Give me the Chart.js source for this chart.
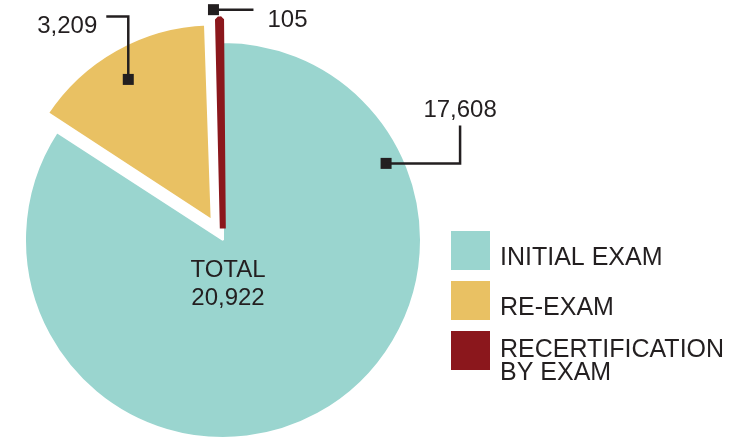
<!DOCTYPE html>
<html>
<head>
<meta charset="utf-8">
<script src="https://cdn.jsdelivr.net/npm/chart.js@4.4.1/dist/chart.umd.min.js"></script>
<style>
  html, body { margin: 0; padding: 0; background: #fff; }
  #wrap { position: relative; width: 747px; height: 441px; }
</style>
</head>
<body>
<div id="wrap"><canvas id="ExamChart"></canvas></div>
<script>
// ================= Data =================
const categories = ['INITIAL EXAM', 'RE-EXAM', ['RECERTIFICATION', 'BY EXAM']];
const examCounts = [17608, 3209, 105];
const sliceColors = ['#9AD5CF', '#E9C163', '#8B171C'];
const sliceOffsets = [0, 75, 46];   // chart.js offset units (translated ~0.3-0.5x)
const sliceBorders = ['#fff', '#fff', '#8B171C'];   // red border keeps the thin slice visible
const sliceBorderWidths = [2, 6, 6];

const TEXT = '#231F20';
const FONT = '"Liberation Sans", Arial, Helvetica, sans-serif';
const fmt = n => n.toLocaleString('en-US');
const total = examCounts.reduce((a, b) => a + b, 0);

// leader lines: where the marker sits inside the slice + elbow path + text side
const leaders = [
  { frac: 0.214, r: 0.91, path: [[74, 0], [0, -38]], text: { dx: 0, dy: -8, align: 'center' } },
  { frac: 0.477, r: 0.83, path: [[0, -63], [-22, 0]], text: { dx: -9, dy: 17, align: 'right' } },
  { frac: -0.4, r: 1.05, path: [[40, 0]], text: { dx: 14, dy: 17, align: 'left' } }
];

// same translation chart.js applies for arc offset
function arcShift(el) {
  const offset = (el.options.offset || 0) / 4;
  const circ = el.endAngle - el.startAngle;
  const fix = 1 - Math.sin(Math.min(Math.PI, circ || 0));
  const half = (el.startAngle + el.endAngle) / 2;
  const d = offset + offset * fix;
  return { x: Math.cos(half) * d, y: Math.sin(half) * d };
}

const labelPlugin = {
  id: 'labelPlugin',
  afterDatasetsDraw(chart) {
    const ctx = chart.ctx;
    const arcs = chart.getDatasetMeta(0).data;
    ctx.save();

    // ---- leader lines + values ----
    arcs.forEach((el, i) => {
      const L = leaders[i];
      const s = arcShift(el);
      const a = el.startAngle + L.frac * (el.endAngle - el.startAngle);
      const r = el.outerRadius * L.r;
      let x = el.x + s.x + Math.cos(a) * r;
      let y = el.y + s.y + Math.sin(a) * r;

      ctx.fillStyle = TEXT;
      ctx.strokeStyle = TEXT;
      ctx.lineWidth = 2.5;
      ctx.fillRect(x - 5.5, y - 5.5, 11, 11);
      ctx.beginPath();
      ctx.moveTo(x, y);
      L.path.forEach(([dx, dy]) => { x += dx; y += dy; ctx.lineTo(x, y); });
      ctx.stroke();

      ctx.font = '24px ' + FONT;
      ctx.textAlign = L.text.align;
      ctx.textBaseline = 'alphabetic';
      ctx.fillText(fmt(examCounts[i]), x + L.text.dx, y + L.text.dy);
    });

    // ---- total in the middle ----
    const c = arcs[0];
    ctx.font = '24px ' + FONT;
    ctx.textAlign = 'center';
    ctx.fillStyle = TEXT;
    ctx.fillText('TOTAL', c.x + 5, c.y + 37);
    ctx.fillText(fmt(total), c.x + 5, c.y + 65);

    // ---- legend ----
    const lx = 451, ly = 231, box = 39, step = 50;
    ctx.textAlign = 'left';
    ctx.font = '25px ' + FONT;
    chart.data.labels.forEach((lab, i) => {
      const top = ly + i * step;
      ctx.fillStyle = sliceColors[i];
      ctx.fillRect(lx, top, box, box);
      ctx.fillStyle = TEXT;
      const lines = Array.isArray(lab) ? lab : [lab];
      const base = lines.length > 1 ? top + 26 : top + 34;
      lines.forEach((t, j) => ctx.fillText(t, lx + 49, base + j * 23));
    });

    ctx.restore();
  }
};

const ctx = document.getElementById('ExamChart').getContext('2d');
new Chart(ctx, {
  type: 'pie',
  data: {
    labels: categories,
    datasets: [{
      data: examCounts,
      backgroundColor: sliceColors,
      borderColor: sliceBorders,
      borderWidth: sliceBorderWidths,
      offset: sliceOffsets,
      hoverOffset: 0,
      radius: 198,
      clip: false
    }]
  },
  options: {
    responsive: true,
    maintainAspectRatio: false,
    animation: false,
    rotation: 0,
    layout: { padding: { left: 25, right: 326, top: 42, bottom: 3 } },
    plugins: {
      legend: { display: false },
      tooltip: { enabled: false }
    }
  },
  plugins: [labelPlugin]
});
</script>
</body>
</html>
